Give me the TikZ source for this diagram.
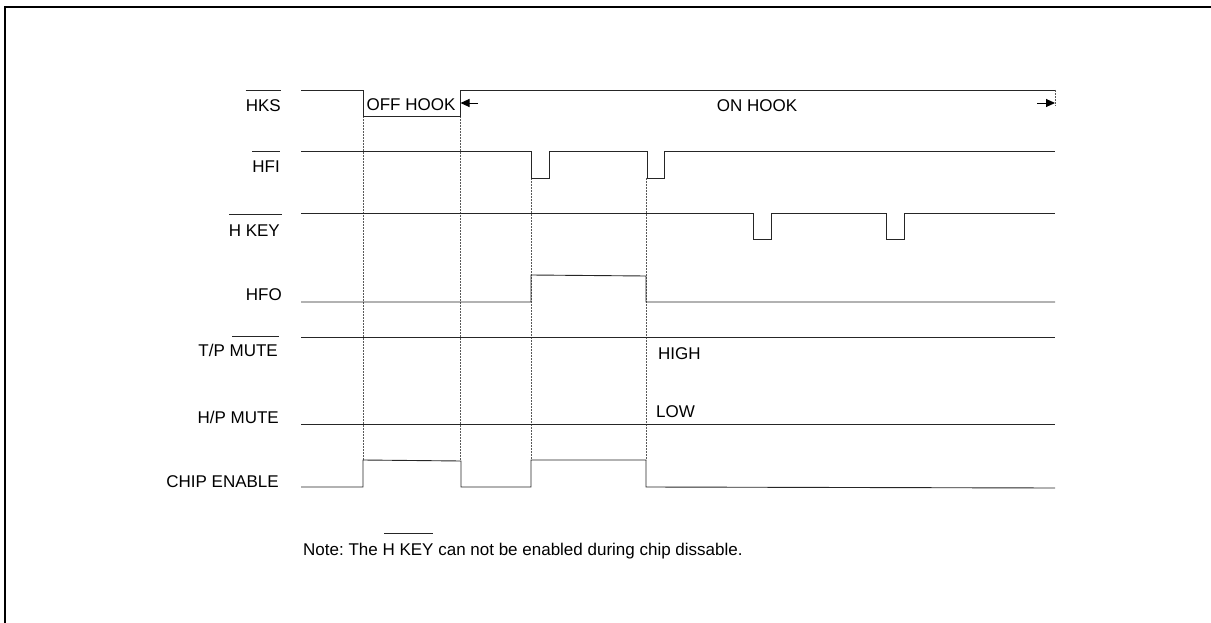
\documentclass[tikz,border=0pt]{standalone}
\usepackage{fontspec}
\setmainfont{Liberation Sans}
\usetikzlibrary{arrows.meta}
\tikzset{
  sig/.style={draw=black!85, line width=0.9pt},
  guide/.style={draw=black!65, line width=0.9pt, dash pattern=on 2pt off 1pt},
  lbl/.style={inner sep=0pt, anchor=east},
  txt/.style={inner sep=0pt},
  ovl/.style={draw=black!85, line width=0.8pt},
  dimarrow/.style={draw=black, line width=0.9pt, -{Triangle[length=9pt,width=8pt]}}
}
\begin{document}
\frenchspacing
\begin{tikzpicture}[x=1pt,y=-1pt,font=\fontsize{17}{20}\selectfont]
\useasboundingbox (0,0) rectangle (1211,623);
% frame
\draw[line width=2.2pt] (5,1000) -- (5,7) -- (1300,7);

% labels
\node[lbl] (hks) at (281,106) {HKS};
\node[lbl] (hfi) at (280,167) {HFI};
\node[lbl] (hkey) at (280,231) {H KEY};
\node[lbl] (hfo) at (282,295) {HFO};
\node[lbl] (tpm) at (278,350) {T/P MUTE};
\node[lbl] (hpm) at (279,417) {H/P MUTE};
\node[lbl] (ce) at (279,482) {CHIP ENABLE};

% overlines
\draw[ovl] (hks.west |- 0,90) -- (hks.east |- 0,90);
\draw[ovl] (hfi.west |- 0,151) -- (hfi.east |- 0,151);
\draw[ovl] (229,214) -- (282,214);
\draw[ovl] (232,336) -- (279,336);

% guides
\draw[guide] (363,116) -- (363,460);
\draw[guide] (460,116) -- (460,460);
\draw[guide] (531,178) -- (531,460);
\draw[guide] (646,178) -- (646,460);
\draw[guide] (1055,90) -- (1055,106);

% HKS
\draw[sig] (301,90) -- (363,90) -- (363,116) -- (460,116) -- (460,90) -- (1055,90);
\node[txt] (off) at (411,105) {OFF HOOK};
\node[txt] (on) at (757,106) {ON HOOK};
\coordinate (la) at (478,103);
\coordinate (lb) at (460.5,103);
\coordinate (ra) at (1037,103);
\coordinate (rb) at (1055,103);
\draw[dimarrow] (la) -- (lb);
\draw[dimarrow] (ra) -- (rb);

% HFI
\draw[sig] (301,151) -- (531,151) -- (531,178) -- (549,178) -- (549,151)
  -- (647,151) -- (647,178) -- (664,178) -- (664,151) -- (1055,151);

% H KEY
\draw[sig] (301,213) -- (753,213) -- (753,239) -- (771,239) -- (771,213)
  -- (886,213) -- (886,239) -- (904,239) -- (904,213) -- (1055,213);

% HFO
\draw[sig] (301,302) -- (531,302) -- (531,275) -- (646,276) -- (646,302) -- (1055,302);

% T/P MUTE
\draw[sig] (301,337) -- (1055,337);
\node[txt, anchor=west] (high) at (658,354) {HIGH};

% H/P MUTE
\draw[sig] (301,424) -- (1055,424);
\node[txt, anchor=west] (low) at (656,412) {LOW};

% CHIP ENABLE
\draw[sig] (301,487) -- (363,487) -- (363,460) -- (461,461) -- (461,487)
  -- (531,487) -- (531,460) -- (646,460) -- (646,487) -- (1055,488);

% note
\node[txt, anchor=west] (note) at (303,551) {Note: The H KEY can not be enabled during chip dissable.};
\draw[ovl] (384,533) -- (433,533);
\end{tikzpicture}
\end{document}
